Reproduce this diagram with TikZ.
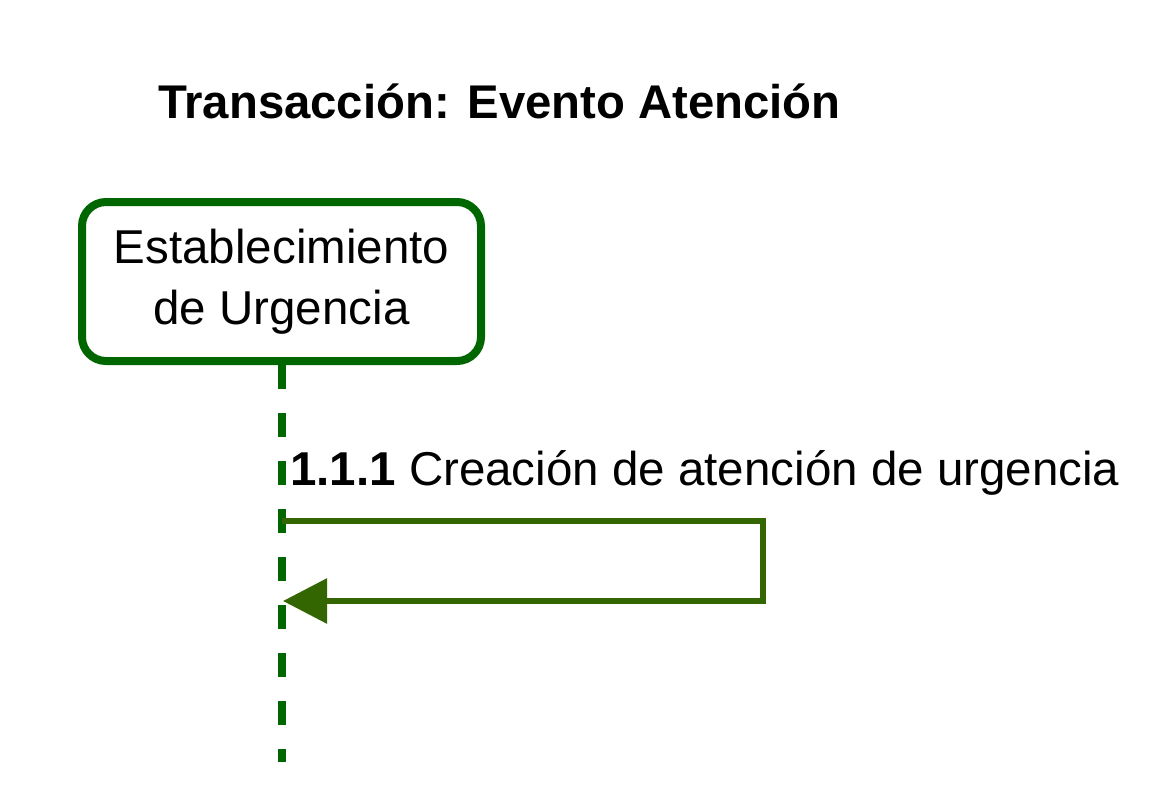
\documentclass[tikz,border=0pt]{standalone}
\usepackage{fontspec}
\setmainfont{Liberation Sans}
\usetikzlibrary{arrows.meta}
\definecolor{lifegreen}{HTML}{006600}
\definecolor{msggreen}{HTML}{336600}
\begin{document}
\begin{tikzpicture}[x=1pt,y=-1pt,
    actor/.style={draw=lifegreen,line width=8pt,rounded corners=24pt,fill=white,
      minimum width=399pt,minimum height=159pt,align=center,
      font=\fontsize{47.5}{61}\selectfont},
    lifeline/.style={lifegreen,line width=8pt,dash pattern=on 24pt off 24pt},
    msg/.style={msggreen,line width=6pt,-{Triangle[length=44pt,width=44pt]}},
    txt/.style={anchor=base west,inner sep=0pt,font=\fontsize{47.5}{57}\selectfont}]
    \useasboundingbox (0,0) rectangle (1164,804);
    \node[txt,font=\fontsize{47.3}{57}\selectfont\bfseries] (title) at (158,118) {Transacción: Evento Atención};
    \node[actor] (eu) at (281.5,281.5) {Establecimiento\\de Urgencia};
    \coordinate (end) at (281.5,762);
    \draw [lifeline] (eu.south) -- (end);
    \coordinate (m1) at (281.5,521);
    \coordinate (m2) at (763,521);
    \coordinate (m3) at (763,601);
    \coordinate (m4) at (283,601);
    \draw [msg] (m1) -- (m2) -- (m3) -- (m4);
    \node[txt] (lbl) at (290,485) {\textbf{1.1.1} Creación de atención de urgencia};
\end{tikzpicture}
\end{document}
